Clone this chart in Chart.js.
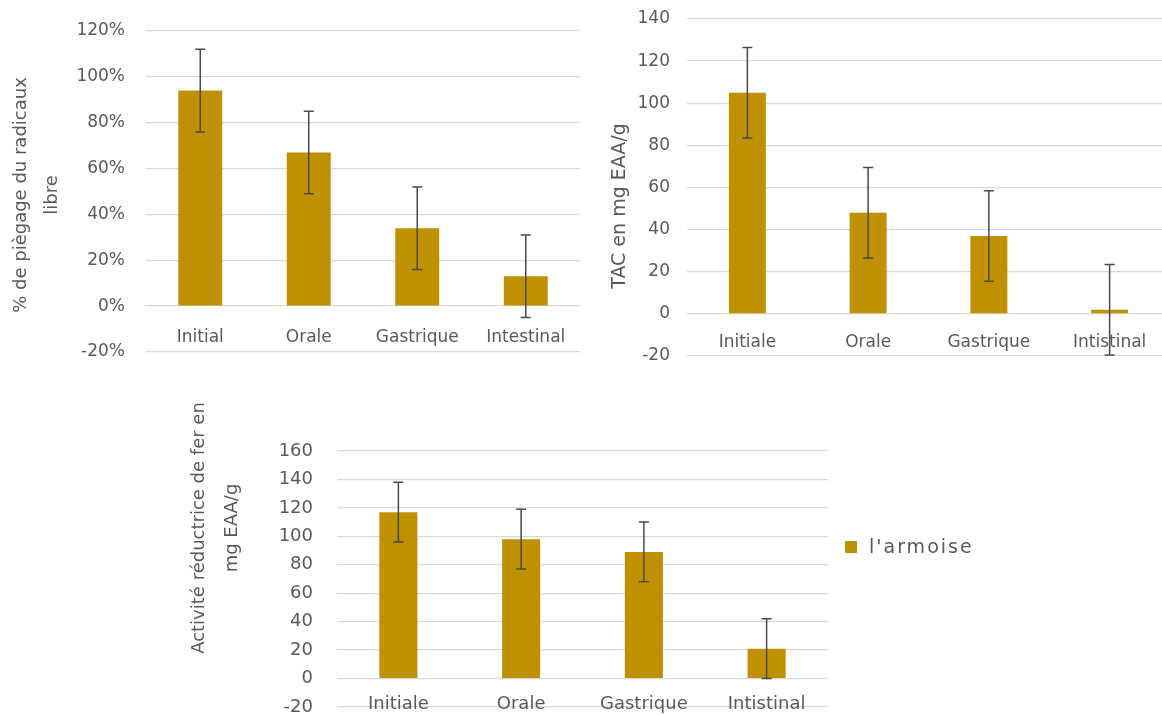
<!DOCTYPE html>
<html>
<head>
<meta charset="utf-8">
<script src="https://cdn.jsdelivr.net/npm/chart.js@4.4.1/dist/chart.umd.min.js"></script>
<style>
  html, body { margin: 0; padding: 0; background: #ffffff; overflow: hidden; }
  #stage { position: relative; width: 1162px; height: 715px; overflow: hidden; background: #ffffff; }
  #stage canvas { position: absolute; }
</style>
</head>
<body>
<div id="stage">
  <canvas id="dpph" width="590" height="412" style="left:0px;top:-20px"></canvas>
  <canvas id="tac" width="590" height="416" style="left:590px;top:-20px"></canvas>
  <canvas id="frap" width="830" height="367" style="left:170px;top:380px"></canvas>
</div>
<script>
// Series name shown in the key
const seriesName = "l'armoise";

// Piégeage des radicaux libres (%)
const dpphCategories = ['Initial', 'Orale', 'Gastrique', 'Intestinal'];
const dpphValues = [94, 67, 34, 13];
const dpphErrors = [18, 18, 18, 18];
const dpphTicks = { min: -20, max: 120, step: 20 };

// Capacité antioxydante totale (mg EAA/g)
const tacCategories = ['Initiale', 'Orale', 'Gastrique', 'Intistinal'];
const tacValues = [105, 48, 37, 2];
const tacErrors = [21.5, 21.5, 21.5, 21.5];
const tacTicks = { min: -20, max: 140, step: 20 };

// Pouvoir réducteur du fer (mg EAA/g)
const frapCategories = ['Initiale', 'Orale', 'Gastrique', 'Intistinal'];
const frapValues = [117, 98, 89, 21];
const frapErrors = [21, 21, 21, 21];
const frapTicks = { min: -20, max: 160, step: 20 };

const BAR_COLOR = '#BF9000';
const TEXT_COLOR = '#595959';
const GRID_COLOR = '#d9d9d9';
const FONT_FAMILY = '"DejaVu Sans", "Open Sans", sans-serif';

// Error bars: vertical whisker with caps, positioned via the bar elements and the y scale
const errorBars = {
  id: 'errorBars',
  afterDatasetsDraw(chart) {
    const ctx = chart.ctx;
    const yScale = chart.scales.y;
    chart.data.datasets.forEach((ds, di) => {
      const meta = chart.getDatasetMeta(di);
      if (!ds.errors) return;
      ctx.save();
      ctx.strokeStyle = '#4a4a4a';
      ctx.lineWidth = 1.5;
      meta.data.forEach((bar, i) => {
        const v = ds.data[i];
        const e = ds.errors[i];
        const x = bar.x;
        const yTop = yScale.getPixelForValue(v + e);
        const yBot = yScale.getPixelForValue(v - e);
        const cap = 5;
        ctx.beginPath();
        ctx.moveTo(x, yTop); ctx.lineTo(x, yBot);
        ctx.moveTo(x - cap, yTop); ctx.lineTo(x + cap, yTop);
        ctx.moveTo(x - cap, yBot); ctx.lineTo(x + cap, yBot);
        ctx.stroke();
      });
      ctx.restore();
    });
  }
};

// Rotated (vertical) axis title, one or more lines
const sideTitle = {
  id: 'sideTitle',
  afterDraw(chart, args, opts) {
    if (!opts || !opts.lines) return;
    const ctx = chart.ctx;
    ctx.save();
    ctx.fillStyle = TEXT_COLOR;
    ctx.font = opts.size + 'px ' + FONT_FAMILY;
    ctx.textAlign = 'center';
    ctx.textBaseline = 'middle';
    opts.lines.forEach((line, i) => {
      ctx.save();
      ctx.translate(opts.x[i], opts.y);
      ctx.rotate(-Math.PI / 2);
      ctx.fillText(line, 0, 0);
      ctx.restore();
    });
    ctx.restore();
  }
};

// Series key: colour swatch + dataset label
const seriesKey = {
  id: 'seriesKey',
  afterDraw(chart, args, opts) {
    if (!opts || !opts.show) return;
    const ctx = chart.ctx;
    const ds = chart.data.datasets[0];
    ctx.save();
    ctx.fillStyle = ds.backgroundColor;
    ctx.fillRect(opts.x, opts.y - opts.box / 2, opts.box, opts.box);
    ctx.fillStyle = TEXT_COLOR;
    ctx.font = opts.size + 'px ' + FONT_FAMILY;
    if ('letterSpacing' in ctx) ctx.letterSpacing = opts.spacing + 'px';
    ctx.textAlign = 'left';
    ctx.textBaseline = 'middle';
    ctx.fillText(ds.label, opts.x + opts.box + opts.gap, opts.y + 1);
    ctx.restore();
  }
};

function buildPanel(canvasId, cfg) {
  return new Chart(document.getElementById(canvasId), {
    type: 'bar',
    data: {
      labels: cfg.labels,
      datasets: [{
        label: seriesName,
        data: cfg.values,
        errors: cfg.errors,
        backgroundColor: BAR_COLOR,
        borderWidth: 0,
        categoryPercentage: 1,
        barPercentage: cfg.barPct
      }]
    },
    options: {
      responsive: false,
      animation: false,
      devicePixelRatio: 1,
      layout: { padding: cfg.padding },
      plugins: {
        legend: { display: false },
        tooltip: { enabled: false },
        sideTitle: cfg.title,
        seriesKey: cfg.key || { show: false }
      },
      scales: {
        x: {
          position: { y: 0 },
          grid: { display: false, drawTicks: false },
          border: { display: false },
          ticks: {
            color: TEXT_COLOR,
            font: { family: FONT_FAMILY, size: cfg.catSize },
            padding: cfg.xPad,
            maxRotation: 0,
            autoSkip: false
          }
        },
        y: {
          min: cfg.ticks.min,
          max: cfg.ticks.max,
          grid: { color: GRID_COLOR, lineWidth: 1.3, drawTicks: false },
          border: { display: false },
          ticks: {
            stepSize: cfg.ticks.step,
            color: TEXT_COLOR,
            font: { family: FONT_FAMILY, size: cfg.tickSize },
            padding: cfg.yPad,
            callback: cfg.format
          },
          afterFit: (scale) => { scale.width = cfg.yWidth; }
        }
      }
    },
    plugins: [errorBars, sideTitle, seriesKey]
  });
}

buildPanel('dpph', {
  labels: dpphCategories,
  values: dpphValues,
  errors: dpphErrors,
  ticks: dpphTicks,
  format: (v) => v + '%',
  barPct: 0.405,
  padding: { top: 51, bottom: 40, left: 0, right: 10 },
  yWidth: 146,
  yPad: 21,
  xPad: 21,
  tickSize: 17,
  catSize: 17,
  title: { lines: ['% de piègage du radicaux', 'libre'], x: [21, 52], y: 215, size: 18 }
});

buildPanel('tac', {
  labels: tacCategories,
  values: tacValues,
  errors: tacErrors,
  ticks: tacTicks,
  format: (v) => v,
  barPct: 0.306,
  padding: { top: 39, bottom: 40, left: 0, right: 10 },
  yWidth: 97,
  yPad: 17,
  xPad: 19,
  tickSize: 17,
  catSize: 17,
  title: { lines: ['TAC en mg EAA/g'], x: [30], y: 226, size: 19 }
});

buildPanel('frap', {
  labels: frapCategories,
  values: frapValues,
  errors: frapErrors,
  ticks: frapTicks,
  format: (v) => v,
  barPct: 0.31,
  padding: { top: 71, bottom: 40, left: 0, right: 172 },
  yWidth: 167,
  yPad: 24,
  xPad: 15,
  tickSize: 18,
  catSize: 18,
  title: { lines: ['Activité réductrice de fer en', 'mg EAA/g'], x: [29, 62], y: 148, size: 18 },
  key: { show: true, x: 675, y: 167, box: 12, gap: 12, size: 19, spacing: 2 }
});
</script>
</body>
</html>
